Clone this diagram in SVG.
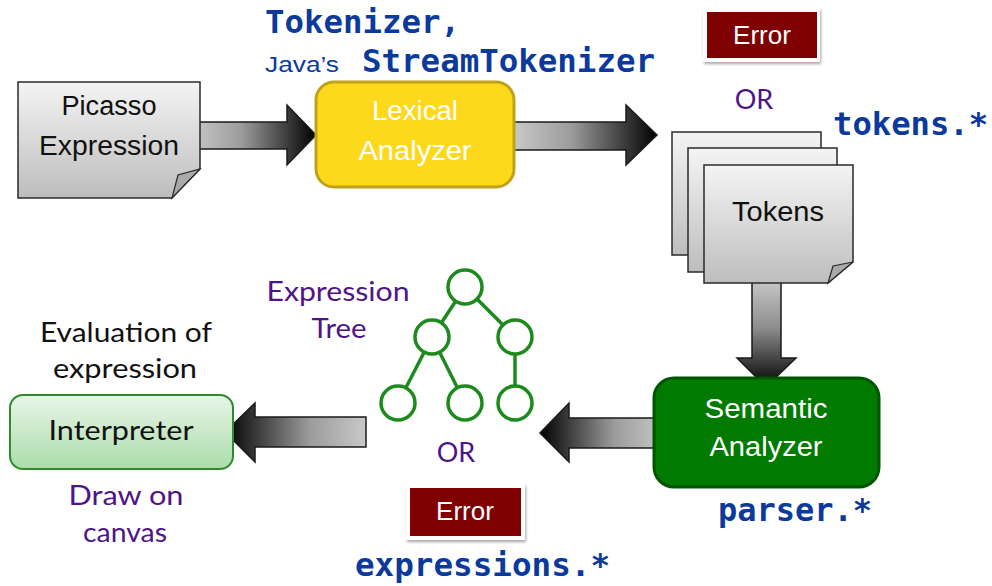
<svg xmlns="http://www.w3.org/2000/svg" width="992" height="586" viewBox="0 0 992 586">
<defs>
<linearGradient id="docG" x1="0" y1="0" x2="0" y2="1"><stop offset="0" stop-color="#F4F4F4"/><stop offset="1" stop-color="#BDBDBD"/></linearGradient>
<linearGradient id="arrR" x1="0" y1="0" x2="1" y2="0"><stop offset="0" stop-color="#C8C8C8"/><stop offset="0.4" stop-color="#9C9C9C"/><stop offset="1" stop-color="#000"/></linearGradient>
<linearGradient id="arrL" x1="1" y1="0" x2="0" y2="0"><stop offset="0" stop-color="#C8C8C8"/><stop offset="0.4" stop-color="#9C9C9C"/><stop offset="1" stop-color="#000"/></linearGradient>
<linearGradient id="arrD" x1="0" y1="0" x2="0" y2="1"><stop offset="0" stop-color="#C8C8C8"/><stop offset="0.45" stop-color="#8E8E8E"/><stop offset="1" stop-color="#000"/></linearGradient>
<linearGradient id="interpG" x1="0" y1="0" x2="0" y2="1"><stop offset="0" stop-color="#E8F5E8"/><stop offset="1" stop-color="#ABDCAB"/></linearGradient>
<filter id="sh" x="-10%" y="-10%" width="130%" height="140%"><feDropShadow dx="1" dy="2" stdDeviation="1.5" flood-color="#000" flood-opacity="0.35"/></filter>
</defs>
<style>
.doc{fill:url(#docG);stroke:#2a2a2a;stroke-width:1.5}
.fold{fill:#A9A9A9;stroke:#2a2a2a;stroke-width:1.2}
.arr{stroke:#1a1a1a;stroke-width:1.5}
.cal{font-family:"Liberation Sans",Arial,sans-serif;text-anchor:middle}
.gill{font-family:Lato,"Liberation Sans",sans-serif;text-anchor:middle}
.mono{font-family:"DejaVu Sans Mono","Liberation Mono",monospace;font-weight:bold;fill:#0B3A9C;font-size:32px}
.purple{fill:#4E1488}
.tree circle{fill:#fff;stroke:#1C8A1C;stroke-width:3.5}
.tree line{stroke:#1C8A1C;stroke-width:3.5}
</style>

<g id="connectors">
<path class="arr" fill="url(#arrR)" d="M192,122 H287 V105 L316,135 L287,165 V149 H192 Z"/>
<path class="arr" fill="url(#arrR)" d="M514,122 H626 V105 L657,135 L626,165 V150 H514 Z"/>
<path class="arr" fill="url(#arrD)" d="M752,279 V358 H737 L766,387 L796,358 H781 V279 Z"/>
<path class="arr" fill="url(#arrL)" d="M664,418 H569 V403 L540,433 L569,462 V448 H664 Z"/>
<path class="arr" fill="url(#arrL)" d="M366,417 H255 V403 L225,432 L255,462 V447 H366 Z"/>
</g>

<g id="picasso">
<path class="doc" d="M18,82 H200 V169 L172,198 H18 Z"/>
<path class="fold" d="M172,198 L178,175 L200,169 Z"/>
<text class="cal" x="109" y="115" font-size="27" fill="#111" textLength="95" lengthAdjust="spacingAndGlyphs">Picasso</text>
<text class="cal" x="109" y="155" font-size="27" fill="#111" textLength="140" lengthAdjust="spacingAndGlyphs">Expression</text>
</g>

<g id="lexical">
<rect x="316" y="82" width="198" height="105" rx="18" fill="#FED81B" stroke="#BFA21A" stroke-width="3"/>
<text class="cal" x="415" y="120" font-size="27" fill="#fff" textLength="86" lengthAdjust="spacingAndGlyphs">Lexical</text>
<text class="cal" x="415" y="160" font-size="27" fill="#fff" textLength="113" lengthAdjust="spacingAndGlyphs">Analyzer</text>
</g>

<g id="tokenizer-label">
<text class="mono" x="265" y="33" textLength="195" lengthAdjust="spacingAndGlyphs">Tokenizer,</text>
<text x="265" y="72" font-family="'Liberation Sans',Arial,sans-serif" font-size="22" fill="#0B3A9C" textLength="74" lengthAdjust="spacingAndGlyphs">Java’s</text>
<text class="mono" x="362" y="72" textLength="293" lengthAdjust="spacingAndGlyphs">StreamTokenizer</text>
</g>

<g id="error-top">
<rect x="703" y="8" width="117" height="54" fill="#fff" filter="url(#sh)"/>
<rect x="707" y="12" width="110" height="46" fill="#7F0000"/>
<text class="cal" x="762" y="44" font-size="26" fill="#fff">Error</text>
</g>

<g id="or-top">
<text class="gill purple" x="754" y="109" font-size="27">OR</text>
</g>

<g id="tokens-label">
<text class="mono" x="833" y="135" textLength="155" lengthAdjust="spacingAndGlyphs">tokens.*</text>
</g>

<g id="tokens">
<rect class="doc" x="672" y="132" width="149" height="123"/>
<rect class="doc" x="688" y="148" width="149" height="124"/>
<path class="doc" d="M704,165 H853 V262 L828,283 H704 Z"/>
<path class="fold" d="M828,283 L833,266 L853,262 Z"/>
<text class="cal" x="778" y="221" font-size="27" fill="#111" textLength="92" lengthAdjust="spacingAndGlyphs">Tokens</text>
</g>

<g id="semantic">
<rect x="654" y="378" width="225" height="109" rx="20" fill="#007B00" stroke="#005500" stroke-width="3"/>
<text class="cal" x="766" y="418" font-size="27" fill="#fff" textLength="123" lengthAdjust="spacingAndGlyphs">Semantic</text>
<text class="cal" x="766" y="456" font-size="27" fill="#fff" textLength="113" lengthAdjust="spacingAndGlyphs">Analyzer</text>
</g>

<g id="parser-label">
<text class="mono" x="718" y="521" textLength="154" lengthAdjust="spacingAndGlyphs">parser.*</text>
</g>

<g id="tree" class="tree">
<line x1="465" y1="287" x2="432" y2="337"/>
<line x1="465" y1="287" x2="515" y2="337"/>
<line x1="432" y1="337" x2="398" y2="403"/>
<line x1="432" y1="337" x2="465" y2="403"/>
<line x1="515" y1="337" x2="515" y2="403"/>
<circle cx="465" cy="287" r="17"/>
<circle cx="432" cy="337" r="17"/>
<circle cx="515" cy="337" r="17"/>
<circle cx="398" cy="403" r="17"/>
<circle cx="465" cy="403" r="17"/>
<circle cx="515" cy="403" r="17"/>
</g>

<g id="tree-label">
<text class="gill purple" x="338" y="301" font-size="26" textLength="143" lengthAdjust="spacingAndGlyphs">Expression</text>
<text class="gill purple" x="339" y="338" font-size="26" textLength="55" lengthAdjust="spacingAndGlyphs">Tree</text>
</g>

<g id="or-bottom">
<text class="gill purple" x="456" y="462" font-size="27">OR</text>
</g>

<g id="error-bottom">
<rect x="406" y="484" width="119" height="56" fill="#fff" filter="url(#sh)"/>
<rect x="410" y="488" width="111" height="48" fill="#7F0000"/>
<text class="cal" x="465" y="520" font-size="26" fill="#fff">Error</text>
</g>

<g id="expressions-label">
<text class="mono" x="355" y="576" textLength="255" lengthAdjust="spacingAndGlyphs">expressions.*</text>
</g>

<g id="interpreter">
<rect x="10" y="395" width="223" height="74" rx="13" fill="url(#interpG)" stroke="#2E8B2E" stroke-width="2"/>
<text class="gill" x="121" y="440" font-size="26" fill="#111" textLength="145" lengthAdjust="spacingAndGlyphs">Interpreter</text>
</g>

<g id="evaluation-label">
<text class="gill" x="126" y="342" font-size="26" fill="#111" textLength="172" lengthAdjust="spacingAndGlyphs">Evaluation of</text>
<text class="gill" x="125" y="378" font-size="26" fill="#111" textLength="144" lengthAdjust="spacingAndGlyphs">expression</text>
</g>

<g id="draw-label">
<text class="gill purple" x="126" y="505" font-size="26" textLength="115" lengthAdjust="spacingAndGlyphs">Draw on</text>
<text class="gill purple" x="125" y="542" font-size="26" textLength="84" lengthAdjust="spacingAndGlyphs">canvas</text>
</g>
</svg>
